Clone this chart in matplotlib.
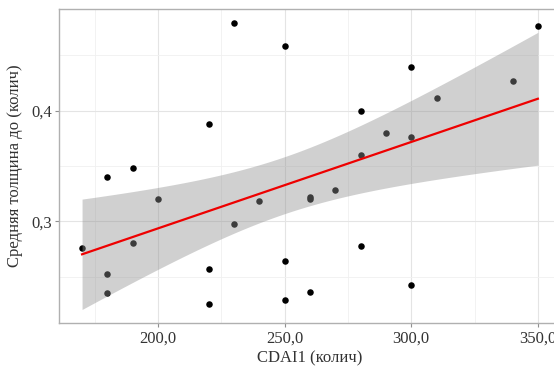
import numpy as np
import matplotlib
matplotlib.use("Agg")
import matplotlib.pyplot as plt
from matplotlib.ticker import FuncFormatter, MultipleLocator

# Data
cdai1 = [170, 180, 180, 180, 190, 190, 200, 220, 220, 220,
         230, 230, 240, 250, 250, 250, 260, 260, 260, 270,
         280, 280, 280, 290, 300, 300, 300, 310, 340, 350]
thickness = [0.276, 0.340, 0.252, 0.235, 0.348, 0.280, 0.320, 0.388, 0.257, 0.225,
             0.479, 0.298, 0.318, 0.459, 0.264, 0.229, 0.322, 0.320, 0.236, 0.328,
             0.400, 0.360, 0.278, 0.380, 0.440, 0.376, 0.242, 0.412, 0.427, 0.477]

x = np.array(cdai1, dtype=float)
y = np.array(thickness)

# Linear fit with 95% confidence band
slope, intercept = np.polyfit(x, y, 1)
xs = np.linspace(x.min(), x.max(), 200)
ys = slope * xs + intercept
n = len(x)
resid = y - (slope * x + intercept)
s = np.sqrt(np.sum(resid ** 2) / (n - 2))
t_val = 2.048  # t(0.975, df=28)
se = s * np.sqrt(1 / n + (xs - x.mean()) ** 2 / np.sum((x - x.mean()) ** 2))

plt.rcParams['font.family'] = ['Liberation Serif', 'DejaVu Serif']

fig = plt.figure(figsize=(5.54, 3.71), dpi=100)
ax = fig.add_axes([0.107, 0.1286, 0.905, 0.847])

ax.scatter(x, y, s=22, color='black', zorder=3, linewidths=0)
ax.fill_between(xs, ys - t_val * se, ys + t_val * se, color='#909090', alpha=0.42,
                linewidth=0, zorder=4)
ax.plot(xs, ys, color='#ee0000', linewidth=1.6, zorder=5)

ax.set_xlim(161, 359)
ax.set_ylim(0.2078, 0.492)
ax.xaxis.set_major_locator(MultipleLocator(50))
ax.xaxis.set_minor_locator(MultipleLocator(25))
ax.yaxis.set_major_locator(MultipleLocator(0.1))
ax.yaxis.set_minor_locator(MultipleLocator(0.05))
ax.xaxis.set_major_formatter(FuncFormatter(lambda v, p: f"{v:.1f}".replace('.', ',')))
ax.yaxis.set_major_formatter(FuncFormatter(lambda v, p: f"{v:.1f}".replace('.', ',')))

ax.grid(which='major', color='#e4e4e4', linewidth=0.8, zorder=0)
ax.grid(which='minor', color='#f0f0f0', linewidth=0.6, zorder=0)
ax.set_axisbelow(True)

for sp in ax.spines.values():
    sp.set_color('#b0b0b0')
    sp.set_linewidth(1.0)

ax.tick_params(which='major', length=3, color='#909090', labelsize=12, labelcolor='#333333', pad=2)
ax.tick_params(which='minor', length=0)

ax.set_xlabel('CDAI1 (колич)', fontsize=12, color='#333333', labelpad=3)
ax.set_ylabel('Средняя толщина до (колич)', fontsize=12, color='#333333', labelpad=6)

fig.savefig('out.png', dpi=100)
